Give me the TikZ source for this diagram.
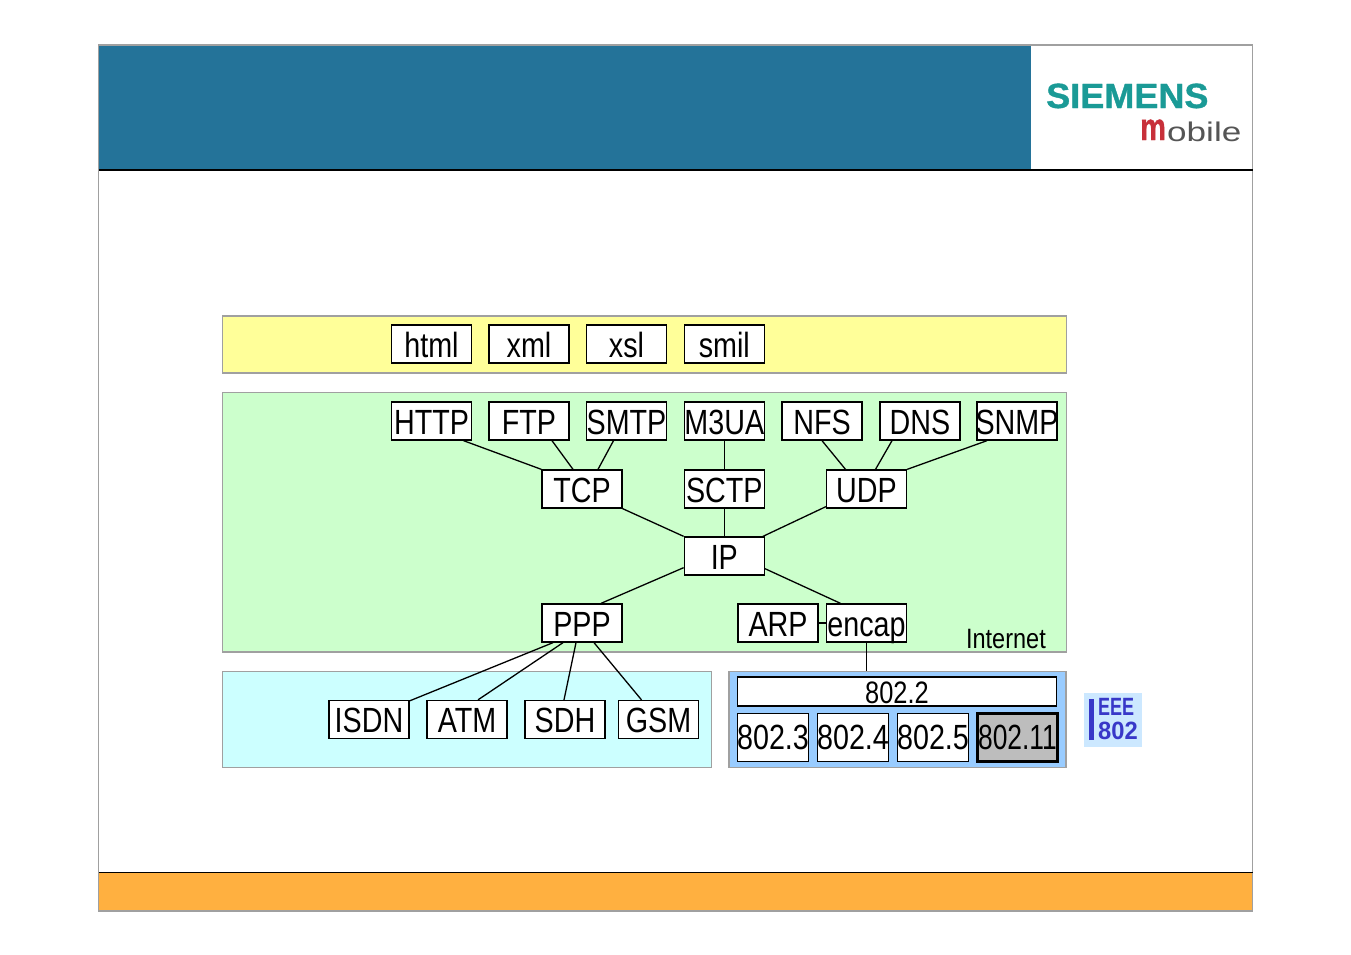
\documentclass[tikz,border=0pt]{standalone}
\usepackage{fontspec}
\setmainfont{Liberation Sans}
\newfontfamily\narrowfont[FakeStretch=0.82]{Liberation Sans}
\newfontfamily\logofont[FakeBold=1]{Liberation Sans Bold}
\usetikzlibrary{calc, positioning}

\definecolor{headblue}{HTML}{247399}
\definecolor{footorange}{HTML}{FFB040}
\definecolor{framegray}{HTML}{A0A0A0}
\definecolor{appyellow}{HTML}{FFFF99}
\definecolor{netgreen}{HTML}{CCFFCC}
\definecolor{linkcyan}{HTML}{CCFFFF}
\definecolor{lanblue}{HTML}{99CCFF}
\definecolor{wlangray}{HTML}{BDBDBD}
\definecolor{logoteal}{HTML}{1A9A96}
\definecolor{logored}{HTML}{C8303A}
\definecolor{logogray}{HTML}{555555}
\definecolor{ieeeblue}{HTML}{3838C8}
\definecolor{ieeepale}{HTML}{CCE8FF}

% label that may run over its box without widening it
\newcommand{\lbl}[1]{\makebox[0pt]{#1}}

\begin{document}
\begin{tikzpicture}[x=1pt, y=-1pt]
	\tikzstyle{panel} = [draw=framegray, line width=1.2pt, rectangle, inner sep=0pt]
	\tikzstyle{proto} = [draw=black, line width=1.3pt, rectangle, fill=white, inner sep=0pt, minimum width=80pt, minimum height=38pt, text height=32pt, text depth=6pt, font=\narrowfont\fontsize{35}{35}\selectfont]
	\tikzstyle{lan} = [proto, line width=1.2pt, minimum width=71pt, minimum height=48pt, text height=36pt, text depth=12pt]
	\tikzstyle{link} = [black, line width=1.3pt]

	\useasboundingbox (0, 0) rectangle (1351, 954);
	\fill[white] (0, 0) rectangle (1351, 954);

	% slide frame
	\fill[headblue] (99, 45) rectangle (1031, 169);
	\fill[footorange] (99, 873) rectangle (1253, 911);
	\draw[framegray, line width=1.2pt] (98.5, 45) rectangle (1252.5, 911);
	\draw[black, line width=2pt] (99, 170) -- (1253, 170);
	\draw[black, line width=0.8pt] (99, 872.5) -- (1253, 872.5);

	% logo
	\node[anchor=base west, inner sep=0pt, text=logoteal, font=\logofont\fontsize{35}{35}\selectfont] at (1046, 108) (siemens) {\scalebox{1.03}[1]{SIEMENS}};
	\node[anchor=base west, inner sep=0pt, text=logored, font=\logofont\fontsize{38}{38}\selectfont] at (1140, 140) (mlogo) {\scalebox{.76}[1]{m}};
	\node[anchor=base west, inner sep=0pt, text=logogray, font=\fontsize{27}{27}\selectfont] at (1167, 141) (obile) {\scalebox{1.3}[1]{obile}};

	% layers
	\node[panel, fill=appyellow, minimum width=844pt, minimum height=57pt] at (644.5, 344.5) (apps) {};
	\node[panel, fill=netgreen, minimum width=844pt, minimum height=259.5pt] at (644.5, 522.25) (inet) {};
	\node[panel, fill=linkcyan, minimum width=489pt, minimum height=96pt] at (467, 719.5) (wan) {};
	\node[panel, fill=lanblue, minimum width=337pt, minimum height=96pt] at (897.5, 719.5) (ieee) {};

	\node[proto] at (431.5, 344) (html) {html};
	\node[proto] at (529, 344) (xml) {xml};
	\node[proto] at (626.5, 344) (xsl) {xsl};
	\node[proto] at (724.3, 344) (smil) {smil};

	\node[proto] at (431.5, 421) (http) {\lbl{HTTP}};
	\node[proto] at (529, 421) (ftp) {FTP};
	\node[proto] at (626.5, 421) (smtp) {\lbl{SMTP}};
	\node[proto] at (724.3, 421) (m3ua) {\lbl{M3UA}};
	\node[proto] at (822, 421) (nfs) {NFS};
	\node[proto] at (920, 421) (dns) {DNS};
	\node[proto] at (1017, 421) (snmp) {\lbl{SNMP}};

	\node[proto] at (582, 489) (tcp) {TCP};
	\node[proto] at (724.3, 489) (sctp) {\lbl{SCTP}};
	\node[proto] at (866.5, 489) (udp) {UDP};
	\node[proto] at (724.3, 556) (ip) {IP};
	\node[proto] at (582, 623) (ppp) {PPP};
	\node[proto] at (778, 623) (arp) {ARP};
	\node[proto] at (866.5, 623) (encap) {\lbl{encap}};

	\node[proto] at (369, 719.5) (isdn) {ISDN};
	\node[proto] at (467, 719.5) (atm) {ATM};
	\node[proto] at (565, 719.5) (sdh) {SDH};
	\node[proto] at (658.5, 719.5) (gsm) {GSM};

	\node[proto, line width=1.2pt, minimum width=319pt, minimum height=29pt, text height=26pt, text depth=3pt, font=\narrowfont\fontsize{31}{31}\selectfont] at (897, 691.5) (llc) {802.2};
	\node[lan] at (773, 737.5) (eth) {\lbl{802.3}};
	\node[lan] at (853, 737.5) (bus) {\lbl{802.4}};
	\node[lan] at (933, 737.5) (ring) {\lbl{802.5}};
	\node[lan, fill=wlangray, line width=3pt, minimum width=80pt, minimum height=48pt] at (1017.5, 737.5) (wlan) {\lbl{\scalebox{.92}[1]{802.11}}};

	\node[anchor=base east, inner sep=0pt, font=\fontsize{28}{28}\selectfont] at (1046, 648) (inetlabel) {\scalebox{.84}[1]{Internet}};

	% ieee logo
	\node[fill=ieeepale, inner sep=0pt, minimum width=58pt, minimum height=54pt] at (1113, 720) (ieeelogo) {};
	\fill[ieeeblue] (1089, 699) rectangle (1094, 740);
	\node[anchor=base west, inner sep=0pt, text=ieeeblue, font=\bfseries\fontsize{25}{25}\selectfont] at (1098, 715.5) (eee) {\scalebox{.72}[1]{EEE}};
	\node[anchor=base west, inner sep=0pt, text=ieeeblue, font=\bfseries\fontsize{25}{25}\selectfont] at (1098, 739.5) (num) {\scalebox{.95}[1]{802}};

	\path[link]
	([xshift=32]http.south) edge (tcp.north west)
	([xshift=23]ftp.south) edge ([xshift=-9]tcp.north)
	([xshift=-13]smtp.south) edge ([xshift=16]tcp.north)
	(m3ua) edge (sctp)
	(sctp) edge (ip)
	(tcp.south east) edge (ip.north west)
	([yshift=2]udp.south west) edge ([xshift=-2]ip.north east)
	(nfs.south) edge ([xshift=-21]udp.north)
	([xshift=-28]dns.south) edge ([xshift=9]udp.north)
	([xshift=-30]snmp.south) edge (udp.north east)
	([yshift=8]ip.south west) edge ([xshift=19]ppp.north)
	([yshift=7]ip.south east) edge ([xshift=-26]encap.north)
	(arp) edge (encap)
	([xshift=-29]ppp.south) edge ([yshift=-1]isdn.north east)
	([xshift=-19]ppp.south) edge ([xshift=11]atm.north)
	([xshift=-6]ppp.south) edge ([xshift=-1]sdh.north)
	([xshift=12]ppp.south) edge ([xshift=-17]gsm.north)
	(encap.south) edge (encap.south |- ieee.north);
\end{tikzpicture}
\end{document}
